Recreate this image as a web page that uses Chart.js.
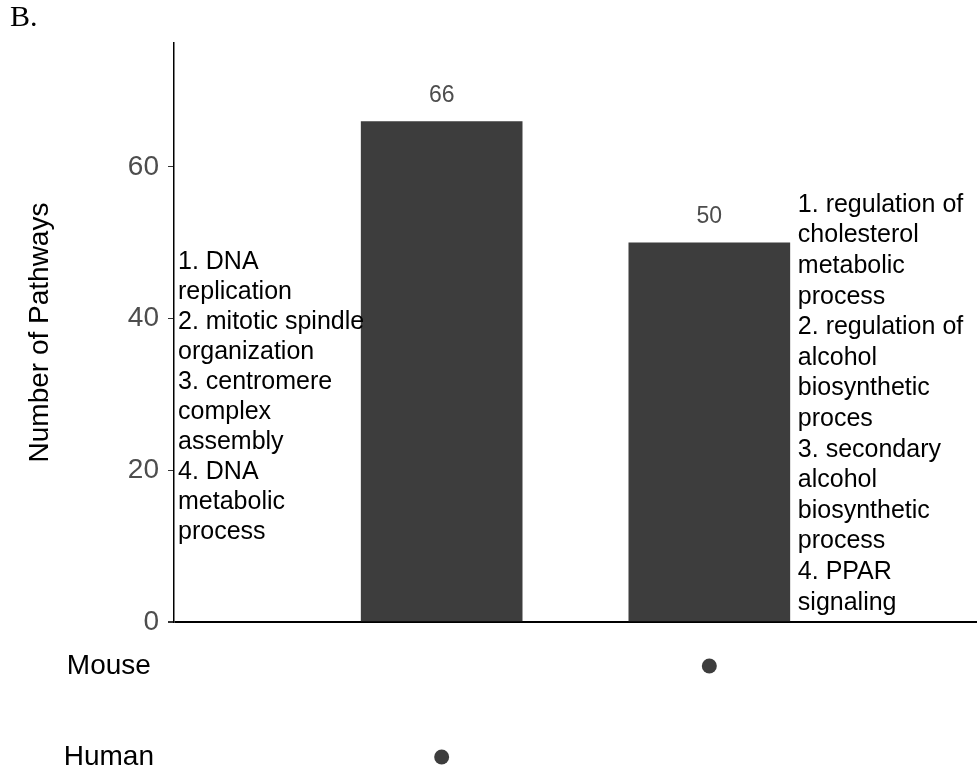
<!DOCTYPE html>
<html>
<head>
<meta charset="utf-8">
<script src="https://cdn.jsdelivr.net/npm/chart.js@4.4.1/dist/chart.umd.min.js"></script>
<style>
  html, body { margin: 0; padding: 0; background: #ffffff; }
  #wrap { width: 977px; height: 775px; position: relative; }
</style>
</head>
<body>
<div id="wrap"><canvas id="upset"></canvas></div>
<script>
// Intersection columns (set that each column is unique to) and their pathway counts
const intersectionSets = ['Human', 'Mouse'];
const pathwayCounts = [66, 50];
// Rows of the membership matrix, top to bottom
const setRows = ['Mouse', 'Human'];
// Count axis ticks
const countTicks = [0, 20, 40, 60];
// Top enriched terms listed beside each column
const humanTerms = ['1. DNA', 'replication', '2. mitotic spindle', 'organization', '3. centromere',
  'complex', 'assembly', '4. DNA', 'metabolic', 'process'];
const mouseTerms = ['1. regulation of', 'cholesterol', 'metabolic', 'process', '2. regulation of',
  'alcohol', 'biosynthetic', 'proces', '3. secondary', 'alcohol', 'biosynthetic', 'process',
  '4. PPAR', 'signaling'];

const FONT = '"Liberation Sans", Arial, Helvetica, sans-serif';
const DARK = '#3d3d3d';
Chart.defaults.font.family = FONT;

const rowValue = name => setRows.length - 1 - setRows.indexOf(name);
const columnX = i => i + 1;

// Keep the axes from reserving extra room around the plot for their edge labels
const fixAxis = width => s => {
  if (width != null) s.width = width;
  s.paddingTop = 0; s.paddingBottom = 0; s.paddingLeft = 0; s.paddingRight = 0;
};

// Bar values printed above each bar
const barValueLabels = {
  id: 'barValueLabels',
  afterDatasetsDraw(chart) {
    const ctx = chart.ctx;
    const meta = chart.getDatasetMeta(0);
    ctx.save();
    ctx.font = '23px ' + FONT;
    ctx.fillStyle = '#4d4d4d';
    ctx.textAlign = 'center';
    ctx.textBaseline = 'middle';
    meta.data.forEach((bar, i) => {
      ctx.fillText(String(pathwayCounts[i]), bar.x, bar.y - 26);
    });
    ctx.restore();
  }
};

// Term lists written next to the bars
const termLists = {
  id: 'termLists',
  afterDatasetsDraw(chart, args, opts) {
    const ctx = chart.ctx;
    const xs = chart.scales.x, ys = chart.scales.y;
    const bars = chart.getDatasetMeta(0).data;
    ctx.save();
    ctx.font = opts.size + 'px ' + FONT;
    ctx.fillStyle = '#000000';
    ctx.textAlign = 'left';
    ctx.textBaseline = 'middle';
    opts.blocks.forEach(b => {
      const x = b.afterBar != null
        ? bars[b.afterBar].x + bars[b.afterBar].width / 2 + b.gap
        : xs.getPixelForValue(b.xValue) + b.gap;
      const y0 = ys.getPixelForValue(b.yValue);
      b.lines.forEach((t, k) => ctx.fillText(t, x, y0 + k * b.lineHeight));
    });
    ctx.restore();
  }
};

new Chart(document.getElementById('upset'), {
  type: 'bar',
  data: {
    datasets: [
      {
        type: 'bar',
        data: pathwayCounts.map((v, i) => ({ x: columnX(i), y: v })),
        backgroundColor: DARK,
        borderWidth: 0,
        barThickness: 161,
        xAxisID: 'x',
        yAxisID: 'y'
      },
      {
        type: 'scatter',
        data: intersectionSets.map((s, i) => ({ x: columnX(i), y: rowValue(s) })),
        backgroundColor: DARK,
        borderColor: DARK,
        pointRadius: 7.5,
        pointHoverRadius: 7.5,
        borderWidth: 0,
        clip: false,
        xAxisID: 'x',
        yAxisID: 'y2'
      }
    ]
  },
  options: {
    responsive: true,
    maintainAspectRatio: false,
    animation: false,
    events: [],
    layout: { autoPadding: false, padding: { left: 10, right: 0, top: 0, bottom: 0 } },
    plugins: {
      legend: { display: false },
      tooltip: { enabled: false },
      title: {
        display: true,
        text: 'B.',
        align: 'start',
        color: '#000000',
        font: { family: '"Liberation Serif", "Times New Roman", serif', size: 30, weight: 'normal' },
        padding: { top: 0, bottom: 7 }
      },
      termLists: {
        size: 25,
        blocks: [
          { lines: humanTerms, xValue: 0, gap: 4, yValue: 47.45, lineHeight: 30 },
          { lines: mouseTerms, afterBar: 1, gap: 8, yValue: 55, lineHeight: 30.6 }
        ]
      }
    },
    scales: {
      x: {
        type: 'linear',
        min: 0,
        max: 3,
        offset: false,
        display: false,
        afterFit: fixAxis(null)
      },
      y2: {
        type: 'linear',
        position: 'left',
        stack: 'panel',
        stackWeight: 153,
        min: -0.198,
        max: 1.4835,
        afterBuildTicks: s => { s.ticks = setRows.map(n => ({ value: rowValue(n) })); },
        afterFit: fixAxis(164),
        grid: { display: false, drawTicks: false },
        border: { display: false },
        ticks: {
          color: '#000000',
          font: { size: 28 },
          crossAlign: 'center',
          padding: 20,
          callback: v => setRows[setRows.length - 1 - v]
        }
      },
      y: {
        type: 'linear',
        position: 'left',
        stack: 'panel',
        stackWeight: 579,
        min: 0,
        max: 76.35,
        afterBuildTicks: s => { s.ticks = countTicks.map(v => ({ value: v })); },
        afterFit: fixAxis(164),
        border: { display: true, color: '#000000', width: 1.5 },
        grid: {
          drawOnChartArea: true,
          color: c => (c.tick && c.tick.value === 0 ? '#000000' : 'rgba(0,0,0,0)'),
          lineWidth: c => (c.tick && c.tick.value === 0 ? 2 : 1),
          tickColor: '#333333',
          tickLength: 6
        },
        ticks: {
          color: '#4d4d4d',
          font: { size: 28 },
          padding: 9
        },
        title: {
          display: true,
          text: 'Number of Pathways',
          color: '#000000',
          font: { size: 28 },
          padding: { top: 13, bottom: 0 }
        }
      }
    }
  },
  plugins: [barValueLabels, termLists]
});
</script>
</body>
</html>
